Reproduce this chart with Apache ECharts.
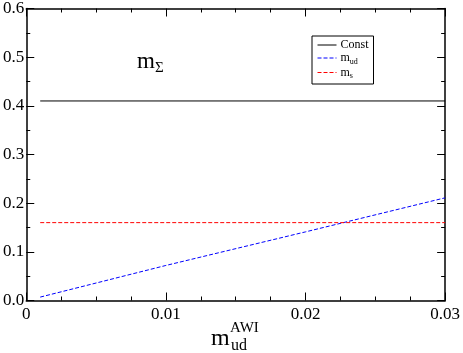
<!DOCTYPE html>
<html>
<head>
<meta charset="utf-8">
<script src="https://cdn.jsdelivr.net/npm/echarts@6/dist/echarts.min.js"></script>
<style>
    html, body { margin: 0; padding: 0; background: #fff; }
    #chart { width: 463px; height: 353px; }
</style>
</head>
<body>
<div id="chart"></div>
<script>
    // values
    var xConst = [0.001, 0.03]
    var yConst = [0.41, 0.41]
    var xMud = [0.001, 0.01, 0.02, 0.03]
    var yMud = [0.007, 0.072, 0.141, 0.211]
    var xMs = [0.001, 0.03]
    var yMs = [0.16, 0.16]
    var seriesNames = ['Const', 'mud', 'ms']

    function pairs(xs, ys) {
        return xs.map(function (x, i) { return [x, ys[i]] })
    }

    var serif = 'Liberation Serif'
    var tickStyle = { show: true, inside: true, length: 8, lineStyle: { color: '#000' } }
    var minorStyle = { show: true, splitNumber: 4, length: 4, lineStyle: { color: '#000' } }

    var chart = echarts.init(document.getElementById('chart'), null, { renderer: 'canvas' })

    chart.setOption({
        animation: false,
        title: {
            text: 'm{sub|Σ}',
            left: 132,
            top: 42,
            textStyle: {
                fontFamily: serif,
                fontSize: 23,
                fontWeight: 'normal',
                color: '#000',
                rich: {
                    sub: { fontFamily: serif, fontSize: 15, color: '#000', padding: [14, 0, 0, 0] }
                }
            }
        },
        legend: {
            data: seriesNames,
            orient: 'vertical',
            left: 312,
            top: 36,
            padding: [3, 5, 4, 5],
            itemGap: 1,
            itemWidth: 19,
            itemHeight: 10,
            borderColor: '#000',
            borderWidth: 1,
            itemStyle: { opacity: 0 },
            lineStyle: { width: 1 },
            formatter: function (name) {
                if (name === 'mud') return 'm{sub|ud}'
                if (name === 'ms') return 'm{sub|s}'
                return name
            },
            textStyle: {
                fontFamily: serif,
                fontSize: 12,
                color: '#000',
                padding: [0, 0, 0, -1],
                rich: {
                    sub: { fontFamily: serif, fontSize: 8, color: '#000', padding: [7, 0, 0, 0] }
                }
            }
        },
        grid: {
            top: 7.5,
            right: 16.5,
            bottom: 52.5,
            left: 26,
            containLabel: false
        },
        xAxis: [{
            type: 'value',
            min: 0,
            max: 0.03,
            interval: 0.01,
            axisLine: { onZero: false, lineStyle: { color: '#000', width: 1.5 } },
            axisTick: tickStyle,
            minorTick: minorStyle,
            splitLine: { show: false },
            axisLabel: {
                fontFamily: serif,
                fontSize: 17,
                color: '#000',
                margin: 6,
                formatter: function (v) { return v === 0 ? '0' : v.toFixed(2) }
            }
        }, {
            type: 'value',
            position: 'top',
            min: 0,
            max: 0.03,
            interval: 0.01,
            axisLine: { show: true, onZero: false, lineStyle: { color: '#000', width: 1.5 } },
            axisTick: tickStyle,
            minorTick: minorStyle,
            splitLine: { show: false },
            axisLabel: { show: false }
        }],
        yAxis: [{
            type: 'value',
            min: 0,
            max: 0.6,
            interval: 0.1,
            axisLine: { show: true, onZero: false, lineStyle: { color: '#000', width: 1.5 } },
            axisTick: tickStyle,
            minorTick: { show: true, splitNumber: 2, length: 4, lineStyle: { color: '#000' } },
            splitLine: { show: false },
            axisLabel: {
                fontFamily: serif,
                fontSize: 17,
                color: '#000',
                margin: 2,
                formatter: function (v) { return v.toFixed(1) }
            }
        }, {
            type: 'value',
            position: 'right',
            min: 0,
            max: 0.6,
            interval: 0.1,
            axisLine: { show: true, onZero: false, lineStyle: { color: '#000', width: 1.5 } },
            axisTick: tickStyle,
            minorTick: { show: true, splitNumber: 2, length: 4, lineStyle: { color: '#000' } },
            splitLine: { show: false },
            axisLabel: { show: false }
        }],
        graphic: [
            { type: 'text', left: 211, top: 327, style: { text: 'm', font: '24px "Liberation Serif"', fill: '#000' } },
            { type: 'text', left: 230, top: 321, style: { text: 'AWI', font: '15px "Liberation Serif"', fill: '#000' } },
            { type: 'text', left: 231, top: 338, style: { text: 'ud', font: '16px "Liberation Serif"', fill: '#000' } }
        ],
        series: [{
            name: 'Const',
            type: 'line',
            symbol: 'none',
            color: '#000',
            lineStyle: { width: 1, color: '#000' },
            data: pairs(xConst, yConst)
        }, {
            name: 'mud',
            type: 'line',
            symbol: 'none',
            color: '#0000ff',
            lineStyle: { width: 1, color: '#0000ff', type: [4, 2] },
            data: pairs(xMud, yMud)
        }, {
            name: 'ms',
            type: 'line',
            symbol: 'none',
            color: '#ff0000',
            lineStyle: { width: 1, color: '#ff0000', type: [4, 2] },
            data: pairs(xMs, yMs)
        }]
    })

    window.addEventListener('resize', function () {
        chart.resize()
    })
</script>
</body>
</html>
